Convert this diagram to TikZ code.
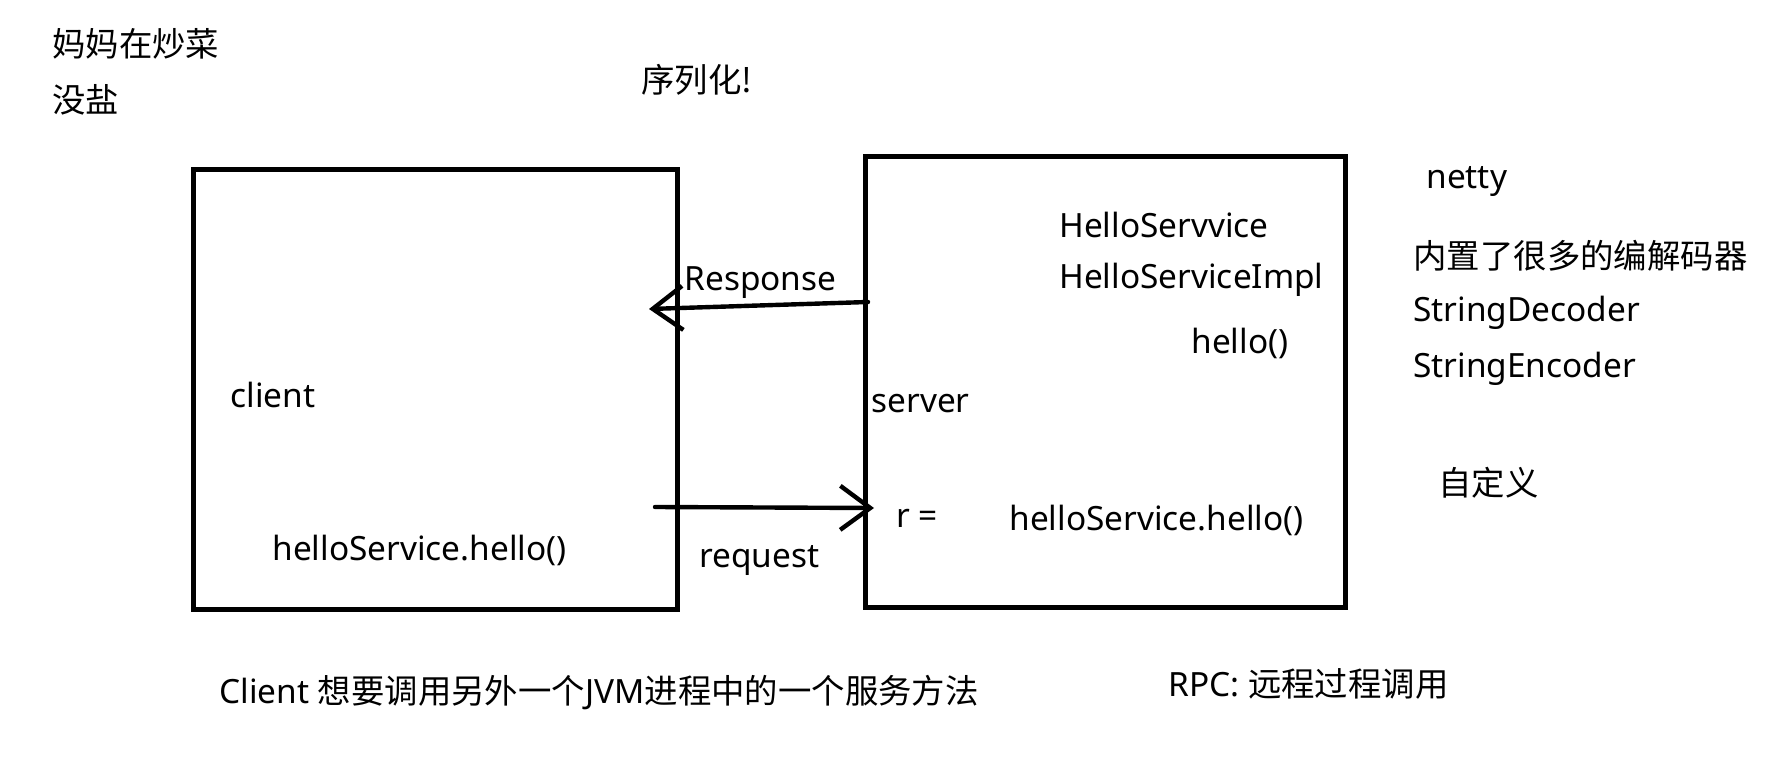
\documentclass[tikz,border=0pt]{standalone}
\usepackage{fontspec}
\setmainfont{Noto Sans}
\newfontfamily\cjk{Noto Sans CJK SC}
\usetikzlibrary{arrows.meta}
\tikzset{
  boxn/.style={draw, line width=2.5pt, minimum width=242pt, minimum height=219.5pt,
               inner sep=0pt},
  txt/.style={anchor=west, inner sep=0pt, yshift=-2pt,
              font=\fontsize{16.7}{20}\selectfont},
  ar/.style={-{Straight Barb[length=15pt,width=22pt,line width=2.2pt]},
             line width=2.2pt, line cap=round},
}

\begin{document}
\begin{tikzpicture}[x=0.5pt,y=-0.5pt]
\useasboundingbox (0,0) rectangle (1779,765);

% the two processes
\node[boxn] (client) at (435,389.5) {};
\node[boxn, minimum width=240pt, minimum height=225pt] (server) at (1105,382) {};

% notes top left
\node[txt] (mom) at (52,40) {\cjk 妈妈在炒菜};
\node[txt] (salt) at (52,96) {\cjk 没盐};
\node[txt] (ser) at (641,76) {\cjk 序列化!};

% inside the client
\node[txt] (cname) at (230,391) {client};
\node[txt] (ccall) at (272,546) {helloService.hello()};

% inside the server
\node[txt] (iface) at (1059,221) {HelloServvice};
\node[txt] (impl) at (1059,276) {HelloServiceImpl};
\node[txt] (hello) at (1191,339) {hello()};
\node[txt] (sname) at (871,400) {server};
\node[txt] (res) at (896,514) {r =};
\node[txt] (scall) at (1009,516) {helloService.hello()};

% messages
\coordinate (rsp a) at (868,302);
\coordinate (rsp b) at (649,309);
\coordinate (req a) at (655,507);
\coordinate (req b) at (874,508);
\draw[ar] (rsp a) -- (rsp b);
\draw[ar] (req a) -- (req b);
\node[txt] (rsp) at (684,279) {Response};
\node[txt] (req) at (699,556) {request};

% netty notes
\node[txt] (netty) at (1426,178) {netty};
\node[txt] (codecs) at (1413,252) {\cjk 内置了很多的编解码器};
\node[txt] (dec) at (1413,309) {StringDecoder};
\node[txt] (enc) at (1413,365) {StringEncoder};
\node[txt] (own) at (1438,479) {\cjk 自定义};

% captions
\node[txt] (goal) at (219,689) {Client {\cjk 想要调用另外一个}JVM{\cjk 进程中的一个服务方法}};
\node[txt] (rpc) at (1168,680) {RPC: {\cjk 远程过程调用}};
\end{tikzpicture}
\end{document}
